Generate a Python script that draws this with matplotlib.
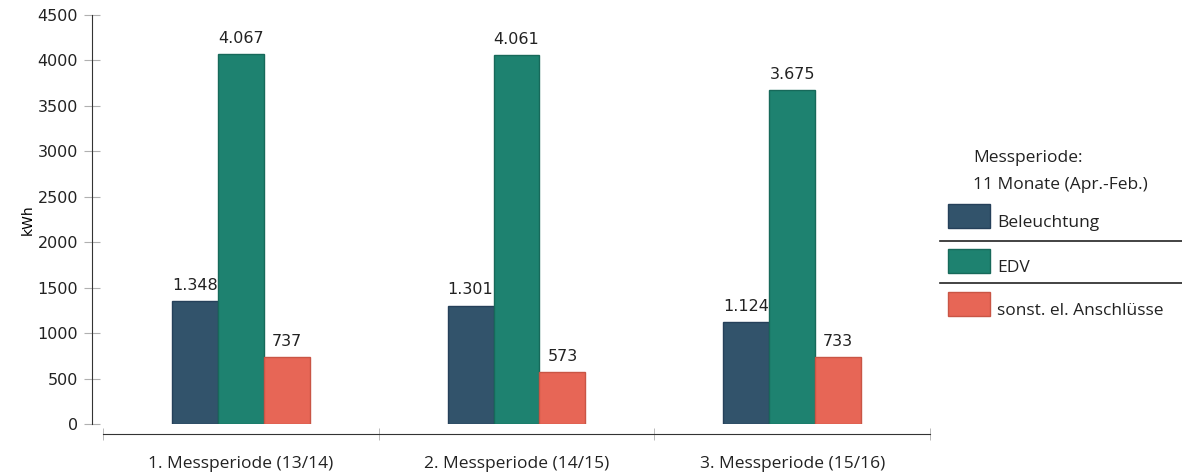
import numpy as np
import matplotlib.pyplot as plt
from matplotlib.patches import Rectangle
from matplotlib.lines import Line2D

periods = ['1. Messperiode (13/14)', '2. Messperiode (14/15)', '3. Messperiode (15/16)']
series = ['Beleuchtung', 'EDV', 'sonst. el. Anschlüsse']
beleuchtung = [1348, 1301, 1124]
edv = [4067, 4061, 3675]
sonstige = [737, 573, 733]

colors = ['#32536b', '#1e8270', '#e76656']
edges = ['#25405a', '#17695a', '#c95545']

plt.rcParams['font.family'] = ['DejaVu Sans']
txt_font = ['Open Sans', 'DejaVu Sans']

fig = plt.figure(figsize=(11.82, 4.74), dpi=100)
ax = fig.add_axes([103 / 1182, 50 / 474, 827 / 1182, 409 / 474])

x = np.arange(len(periods)) + 0.5
w = 46 / 276
for i, (vals, c, ec) in enumerate(zip([beleuchtung, edv, sonstige], colors, edges)):
    pos = x + (i - 1) * w
    ax.bar(pos, vals, width=w, color=c, edgecolor=ec, linewidth=1, zorder=3)
    for px, v in zip(pos, vals):
        txt = f'{v:,}'.replace(',', '.')
        ax.annotate(txt, (px, v), xytext=(0, 6), textcoords='offset points',
                    ha='center', va='bottom', fontsize=11.5, color='#222222', zorder=2)

ax.set_xlim(0, 3)
ax.set_ylim(0, 4500)

for s in ['top', 'right']:
    ax.spines[s].set_visible(False)
ax.spines['left'].set_position(('outward', 8))
ax.spines['bottom'].set_position(('outward', 7.2))
ax.spines['left'].set_color('#333333')
ax.spines['bottom'].set_color('#333333')

ax.set_yticks(np.arange(0, 4501, 500))
ax.tick_params(axis='y', direction='inout', length=12, color='#b0b0b0', labelsize=11.5,
               pad=4, labelcolor='#222222')
ax.set_xticks(x)
ax.set_xticklabels(periods, fontfamily=txt_font, fontsize=12.5)
ax.set_xticks([0, 1, 2, 3], minor=True)
ax.tick_params(axis='x', which='major', length=0, pad=16, labelcolor='#222222')
ax.tick_params(axis='x', which='minor', direction='inout', length=9, color='#b0b0b0')
ax.set_ylabel('kWh', fontsize=10, labelpad=2)

# legend block on the right
fig.text(973 / 1182, 1 - 158 / 474, 'Messperiode:', fontsize=12.5, va='center',
         color='#222222', family=txt_font)
fig.text(973 / 1182, 1 - 185 / 474, '11 Monate (Apr.-Feb.)', fontsize=12.5, va='center',
         color='#222222', family=txt_font)
rows = [216, 261, 304]
for name, c, ec, yc in zip(series, colors, edges, rows):
    fig.patches.append(Rectangle((948 / 1182, 1 - (yc + 12) / 474), 42 / 1182, 24 / 474,
                                 transform=fig.transFigure, facecolor=c, edgecolor=ec, lw=1))
    fig.text(997 / 1182, 1 - (yc + 7) / 474, name, fontsize=12.5, va='center',
             color='#222222', family=txt_font)
for yl in [241, 283]:
    fig.lines.append(Line2D([940 / 1182, 1], [1 - yl / 474] * 2, transform=fig.transFigure,
                            color='#222222', lw=1.2))

fig.savefig('out.png', dpi=100)
